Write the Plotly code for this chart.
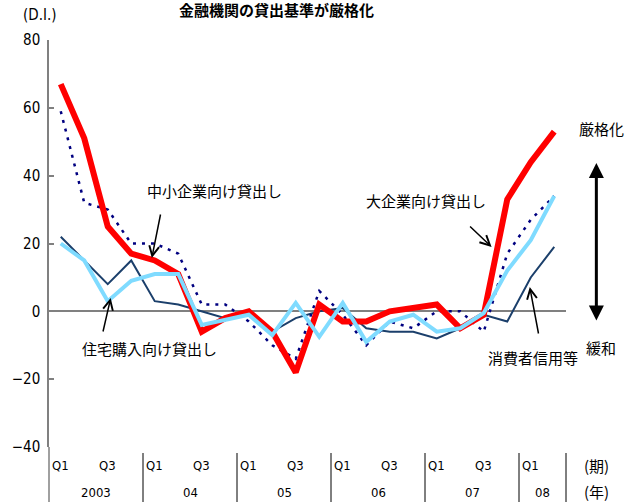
import plotly.graph_objects as go

# ---- data (quarterly, 2003Q1 .. 2008Q2) ----
quarters = ["2003Q1","2003Q2","2003Q3","2003Q4","2004Q1","2004Q2","2004Q3","2004Q4",
            "2005Q1","2005Q2","2005Q3","2005Q4","2006Q1","2006Q2","2006Q3","2006Q4",
            "2007Q1","2007Q2","2007Q3","2007Q4","2008Q1","2008Q2"]
large_firms = [67, 51, 25, 17, 15, 11, -6, -2, 0, -6, -18, 2, -3, -3, 0, 1, 2, -5, -1, 33, 44, 53]
small_firms = [59, 32, 30, 20, 20, 17, 2, 2, -3, -10, -14, 6, -1, -10, -3, -5, 0, 0, -6, 17, 27, 34]
consumer = [22, 15, 8, 15, 3, 2, 0, -2, -1, -6, -2, 0, 1, -5, -6, -6, -8, -5, -1, -3, 10, 19]
housing = [20, 15, 3, 9, 11, 11, -4, -2.5, -1, -7, 2.5, -7.5, 2.5, -9, -3, -1, -6, -5, -0.5, 12, 21, 34]

years = ["2003", "04", "05", "06", "07", "08"]
quarter_labels = ["Q1", "Q3"]
yticks = [-40, -20, 0, 20, 40, 60, 80]

W, H = 634, 502
ML, MR, MT, MB = 38, 68, 40, 55
PW, PH = W - ML - MR, H - MT - MB
NQ = len(quarters)
YMIN, YMAX = -40, 80

def px2p(px):
    return (px - ML) / PW

def py2p(py):
    return (H - MB - py) / PH

xs = list(range(NQ))
NUM = "Liberation Sans Narrow, DejaVu Sans Condensed, Arial Narrow, sans-serif"
JP = "Noto Sans CJK JP, sans-serif"

fig = go.Figure()
fig.add_trace(go.Scatter(x=xs, y=consumer, mode="lines", line=dict(color="#1B3F6B", width=2),
                         name="消費者信用等"))
fig.add_trace(go.Scatter(x=xs, y=small_firms, mode="lines",
                         line=dict(color="#000080", width=2.5, dash="3px,6px"),
                         name="中小企業向け貸出し"))
fig.add_trace(go.Scatter(x=xs, y=large_firms, mode="lines", line=dict(color="#FF0000", width=6),
                         name="大企業向け貸出し"))
fig.add_trace(go.Scatter(x=xs, y=housing, mode="lines", line=dict(color="#7FDBFF", width=4),
                         name="住宅購入向け貸出し"))

ann = []

def text_ann(t, px, py, font):
    ann.append(dict(text=t, x=px2p(px), y=py2p(py), xref="paper", yref="paper", showarrow=False,
                    xanchor="center", yanchor="middle", font=font))

jpfont = dict(family=JP, size=15, color="black")
numfont = dict(family=NUM, size=13, color="black")

# title
text_ann("<b>金融機関の貸出基準が厳格化</b>", 270, 10, dict(family=JP, size=15, color="black"))
text_ann("(D.I.)", 28, 15, dict(family=NUM, size=15, color="black"))

# series labels
labels = [("中小企業向け貸出し", 207, 190), ("大企業向け貸出し", 423, 200),
          ("住宅購入向け貸出し", 141, 348), ("消費者信用等", 532, 357),
          ("厳格化", 602, 128), ("緩和", 602, 347)]
for t, px, py in labels:
    text_ann(t, px, py, jpfont)

# pointer arrows (head px, head py, tail dx, tail dy)
arrows = [(143, 258, 9, -45), (490, 247, -23, -22), (101, 298, -8, 35), (529, 287, 9, 48)]
for hx, hy, dx, dy in arrows:
    ann.append(dict(text="", x=px2p(hx), y=py2p(hy), xref="paper", yref="paper", showarrow=True,
                    ax=dx, ay=dy, arrowhead=5, arrowsize=1.3, arrowwidth=1.5, arrowcolor="black",
                    standoff=0, startstandoff=0))
# double arrow
ann.append(dict(text="", x=px2p(597), y=py2p(163), xref="paper", yref="paper", showarrow=True,
                ax=0, ay=159, arrowhead=2, arrowside="end+start", arrowsize=1, arrowwidth=3,
                arrowcolor="black", standoff=0, startstandoff=0))

# x-axis category labels
for k, yr in enumerate(years):
    first = 4 * k
    last = min(4 * k + 3, NQ - 1)
    for j, ql in enumerate(quarter_labels):
        idx = first + 2 * j
        if idx <= last:
            ann.append(dict(text=ql, x=idx, y=py2p(466), xref="x", yref="paper", showarrow=False,
                            xanchor="center", yanchor="middle", font=numfont))
    ann.append(dict(text=yr, x=(first + last) / 2, y=py2p(492), xref="x", yref="paper",
                    showarrow=False, xanchor="center", yanchor="middle", font=numfont))
text_ann("(期)", 597, 466, jpfont)
text_ann("(年)", 597, 491, jpfont)

shapes = []
# left axis extension into label area
shapes.append(dict(type="line", xref="paper", yref="paper", x0=0, x1=0, y0=0, y1=py2p(H),
                   line=dict(color="#808080", width=1.5)))
# year separators
for k in range(1, len(years) + 1):
    b = min(4 * k, NQ) - 0.5
    xp = (b + 0.5) / NQ
    shapes.append(dict(type="line", xref="paper", yref="paper", x0=xp, x1=xp,
                       y0=py2p(453), y1=py2p(H), line=dict(color="black", width=1)))

fig.update_layout(
    width=W, height=H, margin=dict(l=ML, r=MR, t=MT, b=MB, pad=0),
    plot_bgcolor="white", paper_bgcolor="white", showlegend=False,
    annotations=ann, shapes=shapes,
    xaxis=dict(range=[-0.5, NQ - 0.5], showticklabels=False, showgrid=False, zeroline=False,
               showline=False, ticks=""),
    yaxis=dict(range=[YMIN, YMAX], tickvals=yticks, showgrid=False, zeroline=True,
               zerolinecolor="#808080", zerolinewidth=1.5, showline=True, linecolor="#808080",
               linewidth=1.5, ticks="inside", ticklen=5, tickcolor="#808080", tickwidth=1.5,
               tickfont=dict(family=NUM, size=15, color="black"), ticklabelstandoff=4),
)

fig.write_html("out.html")
